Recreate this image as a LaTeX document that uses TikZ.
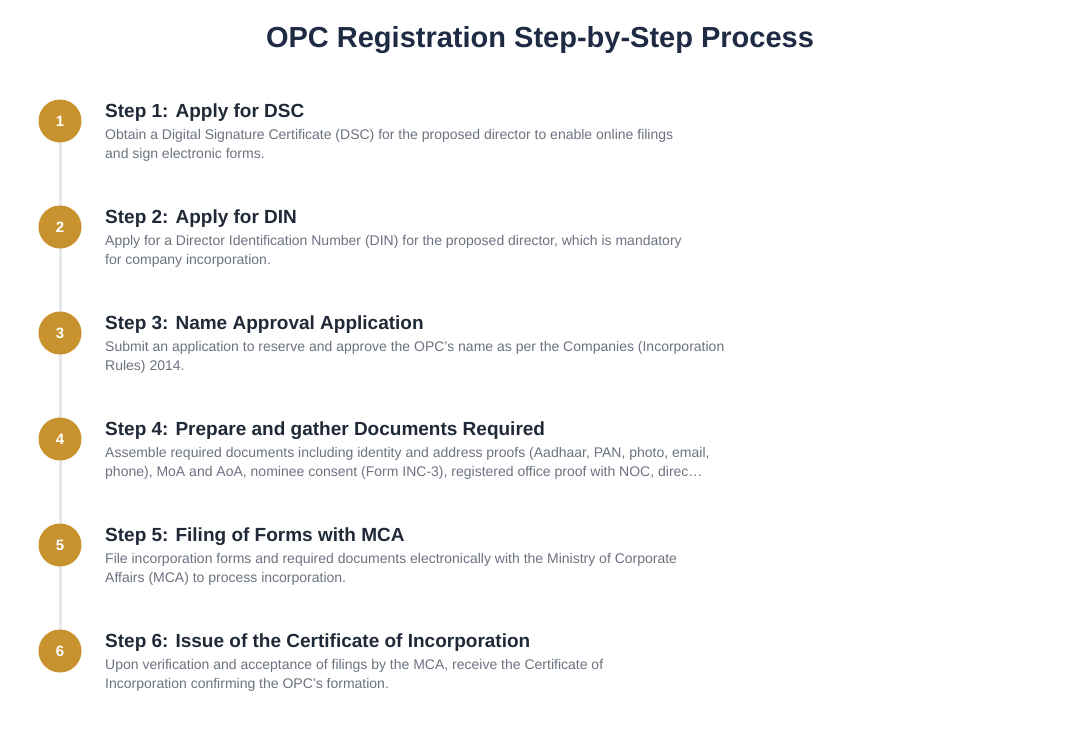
\documentclass[tikz,border=0pt]{standalone}
\usepackage{fontspec}
\setmainfont{Liberation Sans}
\definecolor{navy}{HTML}{1F2A44}
\definecolor{gold}{HTML}{C8922E}
\definecolor{txt}{HTML}{6B7280}
\definecolor{head}{HTML}{1F2937}
\definecolor{rail}{HTML}{E5E7EB}
\begin{document}
\begin{tikzpicture}[x=1pt,y=-1pt,
  num/.style={circle,fill=gold,minimum size=43pt,inner sep=0pt,text=white,font=\fontsize{15}{15}\selectfont\bfseries},
  hd/.style={anchor=base west,text=head,font=\fontsize{19}{22}\selectfont\bfseries,inner sep=0pt},
  bd/.style={anchor=north west,text=txt,align=left,font=\fontsize{14}{19.5}\selectfont,inner sep=0pt}]
\useasboundingbox (0,0) rectangle (1080,736);
\node[anchor=center,text=navy,font=\fontsize{29}{32}\selectfont\bfseries] (title) at (540,40) {OPC Registration Step-by-Step Process};
\draw[rail,line width=3pt] (60,121) -- (60,651);
\foreach \i/\y/\h/\b in {
 1/121/{Step 1: Apply for DSC}/{Obtain a Digital Signature Certificate (DSC) for the proposed director to enable online filings\\and sign electronic forms.},
 2/227/{Step 2: Apply for DIN}/{Apply for a Director Identification Number (DIN) for the proposed director, which is mandatory\\for company incorporation.},
 3/333/{Step 3: Name Approval Application}/{Submit an application to reserve and approve the OPC’s name as per the Companies (Incorporation\\Rules) 2014.},
 4/439/{Step 4: Prepare and gather Documents Required}/{Assemble required documents including identity and address proofs (Aadhaar, PAN, photo, email,\\phone), MoA and AoA, nominee consent (Form INC-3), registered office proof with NOC, direc…},
 5/545/{Step 5: Filing of Forms with MCA}/{File incorporation forms and required documents electronically with the Ministry of Corporate\\Affairs (MCA) to process incorporation.},
 6/651/{Step 6: Issue of the Certificate of Incorporation}/{Upon verification and acceptance of filings by the MCA, receive the Certificate of\\Incorporation confirming the OPC’s formation.}}{
 \node[num] (n\i) at (60,\y) {\i};
 \node[hd] (h\i) at (105,\y-4) {\h};
 \node[bd] (b\i) at (105,\y+8) {\b};
}
\end{tikzpicture}
\end{document}
